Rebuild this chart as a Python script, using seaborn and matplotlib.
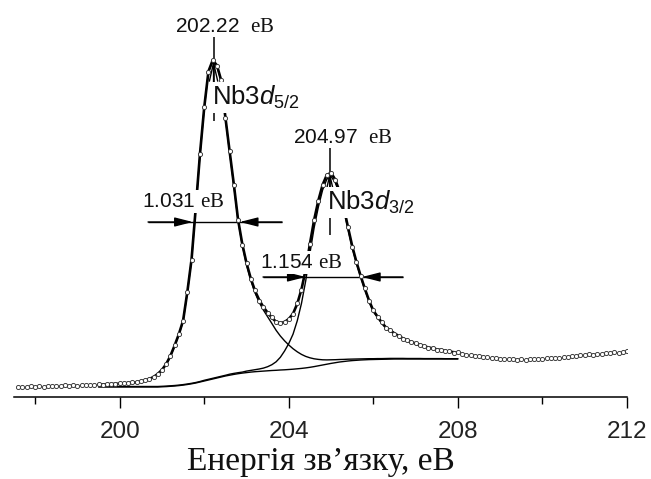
import numpy as np
import pandas as pd
import matplotlib
matplotlib.use("Agg")
import matplotlib.pyplot as plt
import seaborn as sns

# --- measured spectrum (binding energy, eV / intensity, arb. units) ---
energy = np.linspace(197.6, 212.0, 145)
intensity = [
    10.5, 9.8, 10.3, 10.6, 10.1, 10.8, 10.4, 11.0, 10.7, 11.3,
    11.0, 11.6, 11.2, 11.8, 11.5, 12.0, 11.7, 12.3, 12.1, 12.7,
    12.4, 13.0, 12.8, 13.4, 13.6, 13.9, 14.2, 14.6, 15.2, 15.8,
    16.9, 18.3, 20.4, 23.2, 27.5, 33.4, 41.0, 51.8, 63.5, 76.0,
    105.5, 137.0, 190.0, 243.0, 290.5, 325.0, 337.0, 331.0, 317.0, 279.0,
    246.0, 212.0, 177.5, 152.5, 134.5, 118.0, 106.8, 96.5, 90.4, 84.0,
    79.8, 74.8, 74.2, 74.6, 78.5, 83.0, 93.6, 107.0, 128.0, 153.0,
    177.5, 196.0, 212.5, 222.0, 224.5, 217.0, 205.8, 189.2, 170.3, 150.5,
    135.4, 120.7, 108.6, 96.0, 86.7, 80.1, 74.8, 69.2, 67.0, 63.2,
    61.5, 58.2, 56.9, 54.6, 53.9, 51.6, 51.1, 49.2, 49.0, 47.3,
    47.2, 45.7, 45.8, 44.4, 44.6, 43.2, 42.4, 42.0, 41.1, 40.8,
    40.0, 39.8, 39.1, 39.0, 38.3, 38.4, 37.8, 38.0, 37.4, 37.8,
    37.3, 37.9, 37.6, 38.3, 38.0, 38.7, 38.6, 39.4, 39.2, 40.1,
    40.0, 40.8, 40.9, 41.6, 41.8, 42.6, 42.4, 43.3, 43.1, 43.9,
    44.0, 44.6, 44.5, 45.3, 45.6,
]

# --- fit (Shirley background + two components) ---
fit_energy = np.linspace(199.5, 208.0, 86)
background = [
    10, 10, 10, 10, 10, 10, 10, 10, 10, 10,
    10, 10, 10, 10, 10, 10.2, 10.4, 10.7, 11.0, 11.4,
    11.9, 12.5, 13.2, 14.0, 15.0, 16.0, 17.0, 18.0, 19.0, 20.0,
    21.0, 21.8, 22.6, 23.3, 23.9, 24.4, 24.9, 25.3, 25.6, 25.9,
    26.2, 26.5, 26.7, 27.0, 27.2, 27.5, 27.8, 28.2, 28.6, 29.1,
    29.7, 30.4, 31.2, 32.0, 32.8, 33.6, 34.3, 35.0, 35.5, 36.0,
    36.4, 36.7, 37.0, 37.2, 37.4, 37.5, 37.6, 37.7, 37.8, 37.9,
    38, 38, 38, 38, 38, 38, 38, 38, 38, 38,
    38, 38, 38, 38, 38, 38,
]
comp_52 = [
    12.0, 12.1, 12.2, 12.4, 12.6, 12.8, 13.1, 13.4, 13.8, 14.3,
    15.0, 16.0, 17.5, 19.5, 22.5, 26.7, 32.4, 40.7, 51.0, 62.4,
    75.9, 104.5, 137.2, 189.0, 243.0, 289.0, 325.0, 336.0, 331.0, 316.0,
    279.0, 244.8, 211.6, 176.3, 151.9, 132.4, 116.9, 104.3, 94.6, 86.9,
    80.2, 73.5, 66.7, 61.0, 56.2, 52.0, 48.3, 45.2, 42.6, 40.6,
    39.2, 38.2, 37.6, 37.2, 37.1, 37.2, 37.3, 37.5, 37.6, 37.8,
    37.9, 38.0, 38.1, 38.2, 38.3, 38.3, 38.4, 38.4, 38.5, 38.6,
    38.6, 38.6, 38.6, 38.5, 38.5, 38.5, 38.5, 38.4, 38.4, 38.4,
    38.4, 38.4, 38.3, 38.3, 38.3, 38.3,
]
comp_32 = [
    10.5, 10.5, 10.5, 10.5, 10.5, 10.5, 10.5, 10.5, 10.5, 10.5,
    10.5, 10.5, 10.5, 10.5, 10.5, 10.7, 10.9, 11.2, 11.5, 11.9,
    12.4, 13.0, 13.7, 14.5, 15.5, 16.7, 17.7, 18.7, 19.7, 20.7,
    21.7, 22.8, 23.6, 24.3, 24.9, 25.9, 26.6, 27.3, 28.0, 28.9,
    30.3, 32.3, 35.2, 39.7, 46.0, 53.5, 62.8, 76.2, 93.6, 116.1,
    143.7, 169.4, 190.2, 207.0, 217.8, 220.6, 214.3, 203.0, 187.5, 168.0,
    149.4, 133.7, 120.0, 107.2, 95.4, 85.5, 79.6, 73.7, 68.8, 65.9,
    63.0, 60.5, 58.0, 56.0, 54.5, 53.0, 51.5, 50.3, 49.2, 48.2,
    47.3, 46.5, 45.8, 45.1, 44.5, 44.0,
]
envelope = [
    12.5, 12.6, 12.7, 12.9, 13.1, 13.3, 13.6, 13.9, 14.3, 14.8,
    15.5, 16.5, 18.0, 20.0, 23.0, 27.2, 32.9, 41.2, 51.5, 62.9,
    76.4, 105.0, 137.7, 189.5, 243.5, 289.7, 325.7, 336.7, 331.7, 316.7,
    279.7, 245.8, 212.6, 177.3, 152.9, 133.9, 118.6, 106.3, 97.0, 89.9,
    84.3, 79.3, 75.2, 73.7, 75.0, 78.0, 83.3, 93.2, 107.6, 127.6,
    153.2, 177.2, 196.6, 212.2, 222.1, 224.2, 217.3, 205.5, 189.6, 169.8,
    150.9, 135.0, 121.1, 108.2, 96.3, 86.3, 80.4, 74.4, 69.5, 66.6,
    63.6, 61.1, 58.6, 56.5, 55.0, 53.5, 52.0, 50.7, 49.6, 48.6,
    47.7, 46.9, 46.1, 45.4, 44.8, 44.3,
]

# peak positions / FWHM (eV) and labels
peak_pos = [202.22, 204.97]
peak_height = [337, 225]
fwhm = [1.031, 1.154]
peak_names = ["5/2", "3/2"]

spec = pd.DataFrame({"E": energy, "I": intensity})
fit = pd.DataFrame({"E": fit_energy, "bg": background, "c1": comp_52,
                    "c2": comp_32, "env": envelope})

sns.set_theme(style="white")
plt.rcParams["font.family"] = ["Liberation Sans", "DejaVu Sans"]
plt.rcParams["mathtext.fontset"] = "custom"
plt.rcParams["mathtext.rm"] = "Liberation Serif"
plt.rcParams["mathtext.it"] = "Liberation Sans:italic"
plt.rcParams["mathtext.sf"] = "Liberation Sans"

fig = plt.figure(figsize=(6.51, 4.79), dpi=100)
ax = fig.add_axes([14 / 651, 82 / 479, 613 / 651, 397 / 479])

for col in ["bg", "c1", "c2"]:
    sns.lineplot(data=fit, x="E", y=col, ax=ax, color="black", lw=1.0,
                 estimator=None, sort=False, zorder=2)
sns.lineplot(data=fit, x="E", y="env", ax=ax, color="black", lw=1.9,
             estimator=None, sort=False, zorder=3)
sns.scatterplot(data=spec, x="E", y="I", ax=ax, marker="o", s=9,
                color="white", edgecolor="#333333", linewidth=0.65, zorder=4)

ax.set_xlim(197.5, 212)
ax.set_ylim(0, 397)
for s in ["left", "right", "top"]:
    ax.spines[s].set_visible(False)
ax.spines["bottom"].set_linewidth(1.1)
ax.spines["bottom"].set_color("black")
ax.set_yticks([])
ax.set_xticks([200, 204, 208, 212])
ax.set_xticks([198, 202, 206, 210], minor=True)
ax.tick_params(axis="x", which="major", bottom=True, length=8, width=1,
               color="black", labelsize=17.5, pad=9, labelcolor="#222")
ax.tick_params(axis="x", which="minor", bottom=True, length=5, width=1,
               color="black")
ax.set_xlabel("Енергія зв’язку, еВ", fontfamily="Liberation Serif",
              fontsize=24, labelpad=3, color="#111")
ax.set_ylabel("")

box = dict(facecolor="white", edgecolor="none", pad=1.5)
arr_fill = dict(arrowstyle="-|>,head_length=1.1,head_width=0.28",
                mutation_scale=10, color="black", lw=1,
                shrinkA=0, shrinkB=0)
arr_open = dict(arrowstyle="->,head_length=1.3,head_width=0.3",
                mutation_scale=10, color="black", lw=1,
                shrinkA=0, shrinkB=0)

# peak markers
peak_lines = [(276, 360), (162, 249)]
top_text = [(201.31, 365), (204.10, 254)]
name_text = [(202.18, 292), (204.90, 187)]
for i in range(2):
    ax.vlines(peak_pos[i], *peak_lines[i], color="black", lw=1.1, zorder=3)
    ax.annotate("", xy=(peak_pos[i], peak_height[i]),
                xytext=(peak_pos[i], peak_height[i] - 28),
                arrowprops=arr_open, zorder=3)
    ax.text(*top_text[i], f"{peak_pos[i]:.2f}  " + r"$\mathrm{еВ}$",
            fontsize=15, ha="left", va="baseline", color="#111", zorder=6)
    ax.text(*name_text[i], r"Nb3$\mathit{d}_{\mathsf{" + peak_names[i] + "}}$",
            fontsize=18.5, ha="left", va="baseline", color="#111",
            bbox=box, zorder=6)

# FWHM dimension arrows
fwhm_y = [175, 120]
fwhm_ends = [(200.67, 201.73, 202.84, 203.84), (203.39, 204.40, 205.73, 206.70)]
fwhm_text = [(200.53, 190), (203.32, 129)]
for i in range(2):
    a, b, c, d = fwhm_ends[i]
    ax.hlines(fwhm_y[i], a, d, color="black", lw=1, zorder=3)
    ax.annotate("", xy=(b, fwhm_y[i]), xytext=(a, fwhm_y[i]),
                arrowprops=arr_fill, zorder=3)
    ax.annotate("", xy=(c, fwhm_y[i]), xytext=(d, fwhm_y[i]),
                arrowprops=arr_fill, zorder=3)
    ax.text(*fwhm_text[i], f"{fwhm[i]:.3f} " + r"$\mathrm{еВ}$",
            fontsize=15, ha="left", va="baseline", color="#111",
            bbox=box, zorder=6)

fig.savefig("out.png", dpi=100)
